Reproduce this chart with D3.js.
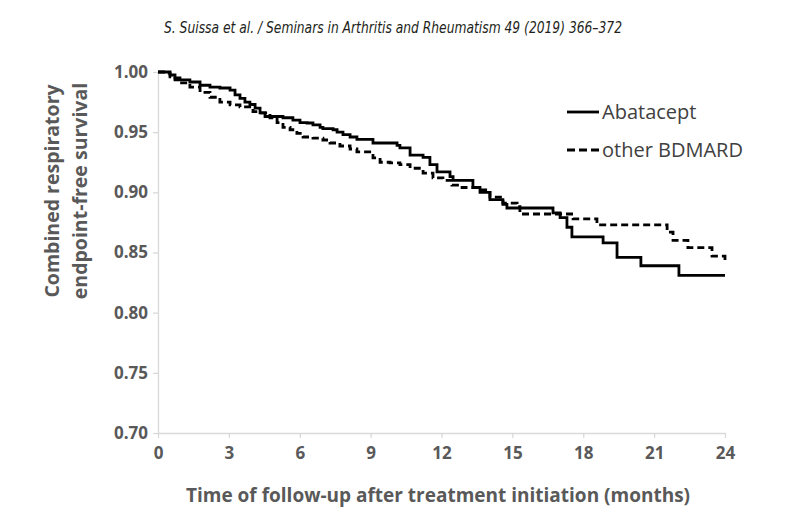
<!DOCTYPE html>
<html>
<head>
<meta charset="utf-8">
<script src="https://cdn.jsdelivr.net/npm/d3@7"></script>
<style>
    body { margin: 0; background: #fff; }
    svg { display: block; }
    .tick text { font-family: 'Open Sans', sans-serif; font-weight: bold; font-size: 17px; fill: #595959; }
    .tick line, .domain { stroke: #d9d9d9; stroke-width: 1.3px; }
</style>
</head>
<body>
<script>
// ================= DATA =================
const xTicks = [0, 3, 6, 9, 12, 15, 18, 21, 24]
const yTicks = [0.70, 0.75, 0.80, 0.85, 0.90, 0.95, 1.00]
const seriesNames = ['Abatacept', 'other BDMARD']

// Kaplan-Meier steps (months, survival)
const abataceptTime = [0, 0.51, 0.72, 0.93, 1.35, 1.78, 2.20, 2.62, 3.05, 3.26, 3.47, 3.68, 3.89, 4.11, 4.32, 4.53,
    5.29, 5.71, 6.01, 6.31, 6.56, 6.86, 6.98, 7.41, 7.58, 7.83, 8.13, 8.42, 9.10, 10.12, 10.24, 10.67, 11.22, 11.51,
    11.81, 12.36, 12.49, 13.33, 13.63, 14.05, 14.60, 14.77, 16.72, 17.02, 17.31, 17.52, 18.84, 19.43, 20.44, 22.05, 24]
const abataceptSurv = [1.000, 0.9975, 0.995, 0.9934, 0.9917, 0.989, 0.9875, 0.9867, 0.985, 0.981, 0.978, 0.975, 0.973, 0.970, 0.966, 0.963,
    0.962, 0.960, 0.958, 0.9576, 0.956, 0.954, 0.953, 0.952, 0.950, 0.948, 0.946, 0.944, 0.941, 0.939, 0.937, 0.931, 0.929, 0.923,
    0.917, 0.913, 0.910, 0.904, 0.900, 0.894, 0.890, 0.887, 0.883, 0.879, 0.871, 0.863, 0.858, 0.846, 0.839, 0.831, 0.831]

const otherTime = [0, 0.30, 0.51, 0.72, 0.93, 1.35, 1.78, 2.20, 2.62, 3.05, 3.47, 4.02, 4.32, 4.74, 5.04, 5.29, 5.59,
    5.88, 6.14, 6.56, 6.98, 7.28, 7.70, 8.13, 8.42, 9.10, 9.40, 9.82, 10.24, 10.67, 11.22, 11.64, 12.06, 12.44, 12.87,
    13.50, 14.05, 14.60, 15.20, 15.32, 17.57, 18.58, 21.55, 21.80, 22.43, 23.45, 24, 24]
const otherSurv = [1.000, 0.999, 0.996, 0.9934, 0.991, 0.9875, 0.983, 0.979, 0.975, 0.9726, 0.971, 0.967, 0.966, 0.962, 0.958, 0.954, 0.952,
    0.949, 0.946, 0.945, 0.9435, 0.941, 0.9385, 0.936, 0.9336, 0.9286, 0.925, 0.9244, 0.923, 0.920, 0.916, 0.912, 0.910, 0.906, 0.904,
    0.902, 0.896, 0.891, 0.888, 0.882, 0.878, 0.873, 0.867, 0.860, 0.854, 0.847, 0.847, 0.841]

// ================= SETUP =================
const margin = { top: 72, right: 75, bottom: 85, left: 158 },
    width = 800 - margin.left - margin.right,
    height = 518 - margin.top - margin.bottom

const root = d3.select('body').append('svg')
    .attr('width', 800)
    .attr('height', 518)

const svg = root.append('g')
    .attr('transform', 'translate(' + margin.left + ',' + margin.top + ')')

// header line
root.append('text')
    .attr('x', 393)
    .attr('y', 33)
    .attr('text-anchor', 'middle')
    .attr('textLength', 458)
    .attr('lengthAdjust', 'spacingAndGlyphs')
    .style('font-family', "'Liberation Sans Narrow', 'DejaVu Sans Condensed', sans-serif")
    .style('font-style', 'italic')
    .style('font-size', '15px')
    .style('fill', '#231f20')
    .text('S. Suissa et al. / Seminars in Arthritis and Rheumatism 49 (2019) 366–372')

// ================= AXES =================
const x = d3.scaleLinear()
    .domain([0, 24])
    .range([0, width])

const y = d3.scaleLinear()
    .domain([0.70, 1.00])
    .range([height, 0])

svg.append('g')
    .attr('transform', 'translate(0,' + height + ')')
    .call(d3.axisBottom(x).tickValues(xTicks).tickSize(5).tickSizeOuter(0).tickPadding(9))

svg.append('g')
    .call(d3.axisLeft(y).tickValues(yTicks).tickFormat(d3.format('.2f')).tickSize(5).tickSizeOuter(0).tickPadding(5))

// axis titles
root.append('text')
    .attr('x', 438)
    .attr('y', 502)
    .attr('text-anchor', 'middle')
    .style('font-family', "'Open Sans', sans-serif")
    .style('font-weight', 'bold')
    .style('font-size', '19px')
    .style('fill', '#595959')
    .text('Time of follow-up after treatment initiation (months)')

const yTitle = root.append('text')
    .attr('transform', 'translate(59,191) rotate(-90)')
    .attr('text-anchor', 'middle')
    .style('font-family', "'Open Sans', sans-serif")
    .style('font-weight', 'bold')
    .style('font-size', '19.5px')
    .style('fill', '#595959')

yTitle.append('tspan').attr('x', 0).attr('dy', 0).text('Combined respiratory')
yTitle.append('tspan').attr('x', 0).attr('dy', 28).text('endpoint-free survival')

// ================= CURVES =================
function toPoints(times, surv) {
    return times.map((t, i) => {
        return { t: t, s: surv[i] }
    })
}

const line = d3.line()
    .x((d) => x(d.t))
    .y((d) => y(d.s))
    .curve(d3.curveStepAfter)

svg.append('path')
    .datum(toPoints(otherTime, otherSurv))
    .attr('d', line)
    .attr('fill', 'none')
    .attr('stroke', '#000')
    .attr('stroke-width', 2.8)
    .attr('stroke-dasharray', '7,4')

svg.append('path')
    .datum(toPoints(abataceptTime, abataceptSurv))
    .attr('d', line)
    .attr('fill', 'none')
    .attr('stroke', '#000')
    .attr('stroke-width', 2.8)

// ================= LEGEND =================
const legend = root.append('g')
    .attr('class', 'legend')
    .attr('transform', 'translate(567, 112)')

legend.selectAll('line')
    .data(seriesNames)
    .enter()
    .append('line')
    .attr('x1', 0)
    .attr('x2', 32)
    .attr('y1', (d, i) => i * 38)
    .attr('y2', (d, i) => i * 38)
    .attr('stroke', '#000')
    .attr('stroke-width', 2.8)
    .attr('stroke-dasharray', (d, i) => i === 1 ? '8,4' : null)

legend.selectAll('text')
    .data(seriesNames)
    .enter()
    .append('text')
    .attr('x', 35)
    .attr('y', (d, i) => i * 38 + 7)
    .style('font-family', "'Open Sans', sans-serif")
    .style('font-size', '20px')
    .style('fill', '#404040')
    .text((d) => d)
</script>
</body>
</html>
